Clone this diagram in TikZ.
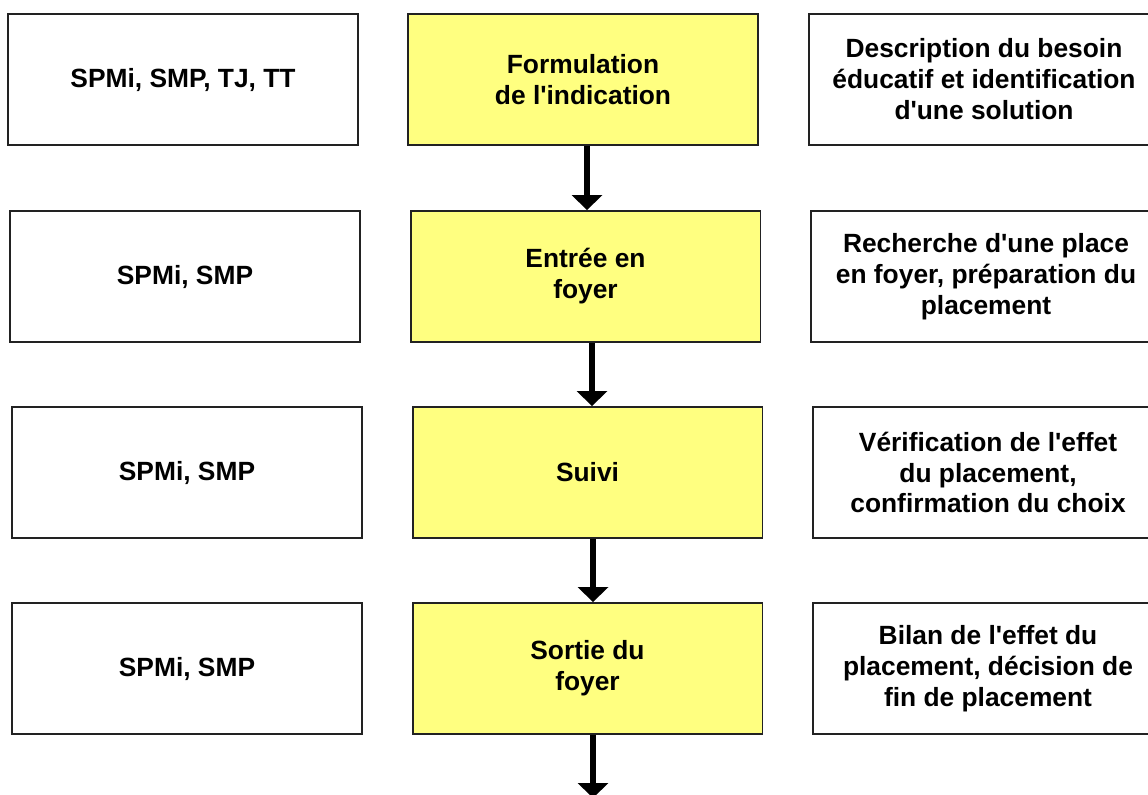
\documentclass[tikz,border=0pt]{standalone}
\usepackage{fontspec}
\setmainfont{Liberation Sans}[Ligatures=TeXOff]
\usetikzlibrary{arrows.meta}
\definecolor{yfill}{RGB}{255,255,128}
\definecolor{edge}{RGB}{34,34,34}
\begin{document}
\begin{tikzpicture}[x=0.02cm,y=-0.02cm,
  box/.style={draw=edge, line width=1.1pt, minimum width=7cm, minimum height=2.62cm,
    align=center, inner sep=0pt, font=\bfseries\fontsize{15}{17.6}\selectfont},
  wbox/.style={box, fill=white},
  ybox/.style={box, fill=yfill},
  flow/.style={line width=3pt, -{Triangle[width=0.6cm,length=0.3cm]}}]
\useasboundingbox (0,0) rectangle (1148,794);
\clip (0,0) rectangle (1148,794);
\fill[white] (0,0) rectangle (1148,794);
% left column
\node[wbox] (l1) at (183,79.5) {SPMi, SMP, TJ, TT};
\node[wbox] (l2) at (185,276.5) {SPMi, SMP};
\node[wbox] (l3) at (187,472.5) {SPMi, SMP};
\node[wbox] (l4) at (187,668.5) {SPMi, SMP};
% middle column
\node[ybox] (y1) at (583,79.5) {Formulation\\de l'indication};
\node[ybox] (y2) at (585.5,276.5) {Entrée en\\foyer};
\node[ybox] (y3) at (587.5,472.5) {Suivi};
\node[ybox] (y4) at (587.5,668.5) {Sortie du\\foyer};
% right column
\node[wbox] (r1) at (984,79.5) {Description du besoin\hspace{0.6em}\\éducatif et identification\\d'une solution\hspace{1.2em}};
\node[wbox] (r2) at (986,276.5) {Recherche d'une place\hspace{0.5em}\\en foyer, préparation du\\placement\hspace{0.8em}};
\node[wbox] (r3) at (988,472.5) {Vérification de l'effet\\du placement,\hspace{1.6em}\\confirmation du choix};
\node[wbox] (r4) at (988,668.5) {Bilan de l'effet du\\placement, décision de\\fin de placement};
% arrows
\coordinate (end) at (593,798);
\draw[flow] (y1.south -| 587,0) -- (y2.north -| 587,0);
\draw[flow] (y2.south -| 592,0) -- (y3.north -| 592,0);
\draw[flow] (y3.south -| 593,0) -- (y4.north -| 593,0);
\draw[flow] (y4.south -| end) -- (end);
\end{tikzpicture}
\end{document}
